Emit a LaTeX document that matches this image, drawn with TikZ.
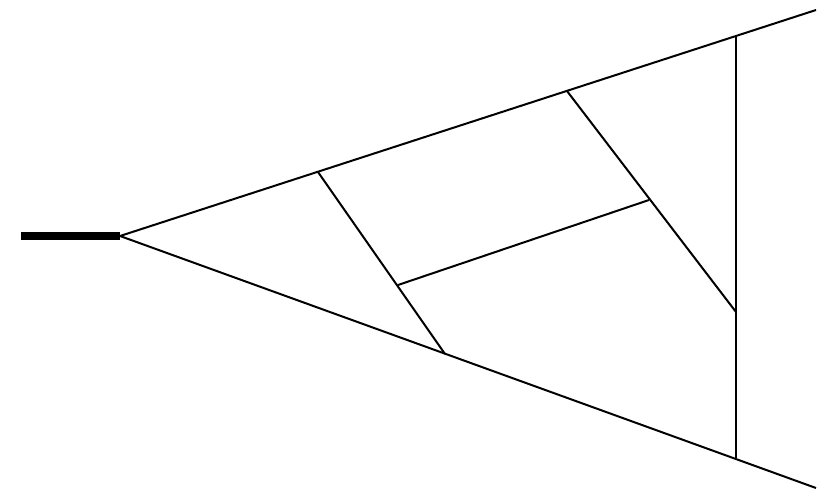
\documentclass[tikz,border=0pt]{standalone}
\usepackage{tikz}

\begin{document}
\begin{tikzpicture}[x=0.03cm,y=-0.03cm,branch/.style={line width=1.7pt},stem/.style={line width=6pt}]
		\useasboundingbox (0,0) rectangle (830,499);
		\coordinate (s)  at (21,236);
		\coordinate (r)  at (120,236);
		\coordinate (t1) at (816,10);
		\coordinate (t2) at (816,488);
		\coordinate (u1) at (318,172);
		\coordinate (l1) at (445,354);
		\coordinate (m1) at (398,285);
		\coordinate (m2) at (649,200);
		\coordinate (u2) at (567,91);
		\coordinate (v1) at (736,36);
		\coordinate (v2) at (736,312);
		\coordinate (v3) at (736,458);

		\draw[stem]   (s) -- (r);
		\draw[branch] (r) -- (t1);
		\draw[branch] (r) -- (t2);
		\draw[branch] (u1) -- (l1);
		\draw[branch] (m1) -- (m2);
		\draw[branch] (u2) -- (v2);
		\draw[branch] (v1) -- (v3);
	\end{tikzpicture}
\end{document}
